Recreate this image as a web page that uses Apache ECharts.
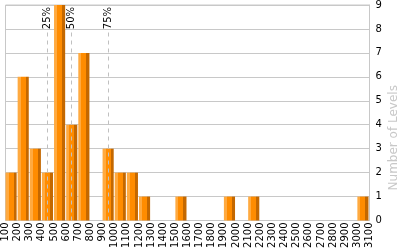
<!DOCTYPE html>
<html><head><meta charset="utf-8">
<script src="https://cdn.jsdelivr.net/npm/echarts@6/dist/echarts.min.js"></script>
<style>html,body{margin:0;padding:0;background:#fff}#c{width:400px;height:250px}</style>
</head><body><div id="c"></div>
<script>
const binStarts = [100,200,300,400,500,600,700,800,900,1000,1100,1200,1300,1400,1500,1600,1700,1800,1900,2000,2100,2200,2300,2400,2500,2600,2700,2800,2900,3000];
const binWidth = 100;
const levelCounts = [2,6,3,2,9,4,7,0,3,2,2,1,0,0,1,0,0,0,1,0,1,0,0,0,0,0,0,0,0,1];
const percentileValues = [446, 640, 947];
const percentileLabels = ['25%','50%','75%'];

const chart = echarts.init(document.getElementById('c'), null, {renderer:'canvas'});
const barGrad = new echarts.graphic.LinearGradient(0,0,1,0,[
  {offset:0,color:'#FFAA40'},{offset:0.27,color:'#FFAA40'},
  {offset:0.27,color:'#FF8C00'},{offset:0.73,color:'#FF8C00'},
  {offset:0.73,color:'#C46800'},{offset:1,color:'#C46800'}
]);
const font = 'DejaVu Sans, Verdana, sans-serif';
chart.setOption({
  animation:false,
  grid:{left:5.5,right:30.5,top:5,bottom:29.5,containLabel:false,outerBoundsMode:'none',show:true,borderColor:'#c8c8c8',borderWidth:1},
  xAxis:{type:'value',min:100,max:3100,interval:100,
    name:'Rank',nameLocation:'middle',nameGap:30,nameMoveOverlap:false,
    nameTextStyle:{color:'#c8c8c8',fontSize:13,fontFamily:font},
    axisLine:{show:false},axisTick:{show:false},splitLine:{show:false},
    axisLabel:{rotate:90,fontSize:10,color:'#000',fontFamily:font,margin:2,formatter:v=>String(v),hideOverlap:false}},
  yAxis:{type:'value',position:'right',min:0,max:9,interval:1,
    name:'Number of Levels',nameLocation:'middle',nameGap:18,nameRotate:90,nameMoveOverlap:false,
    nameTextStyle:{color:'#c8c8c8',fontSize:12,fontFamily:font,padding:[0,50,0,0]},
    axisLine:{show:true,lineStyle:{color:'#c8c8c8'}},axisTick:{show:false},
    splitLine:{show:true,lineStyle:{color:'#c8c8c8',width:1}},
    axisLabel:{fontSize:10,color:'#000',fontFamily:font,margin:6}},
  series:[
    {type:'custom',
     data:binStarts.map((s,i)=>[s,s+binWidth,levelCounts[i]]),
     encode:{x:[0,1],y:2},
     renderItem:function(params,api){
       const v=api.value(2);
       if(!v) return null;
       const p0=api.coord([api.value(0),v]);
       const p1=api.coord([api.value(1),0]);
       return {type:'rect',shape:{x:p0[0],y:p0[1],width:p1[0]-p0[0]-1,height:p1[1]-p0[1]},style:{fill:barGrad}};
     }},
    {type:'custom',
     data:percentileValues.map((p,i)=>[p,percentileLabels[i]]),
     encode:{x:0},
     renderItem:function(params,api){
       const x=api.value(0);
       const b=api.coord([x,0]);
       const t=api.coord([x,9]);
       const px=Math.round(b[0])+0.5;
       return {type:'group',children:[
         {type:'line',shape:{x1:px,y1:b[1],x2:px,y2:t[1]+25},style:{stroke:'#c0c0c0',lineWidth:1,lineDash:[4,4]}},
         {type:'text',x:px,y:t[1]+2,rotation:Math.PI/2,style:{text:percentileLabels[params.dataIndex],fill:'#000',font:'10px '+font,align:'right',verticalAlign:'middle'}}
       ]};
     }}
  ]
});
</script></body></html>
